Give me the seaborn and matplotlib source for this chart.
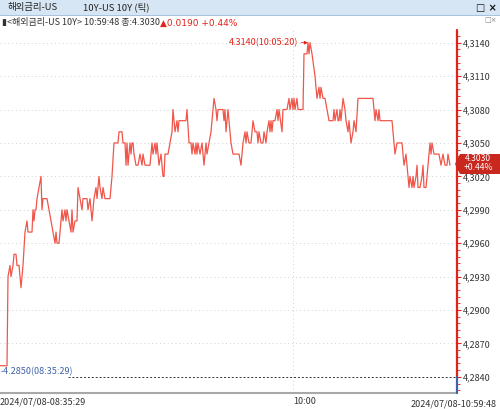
import matplotlib
matplotlib.use('Agg')
import matplotlib.pyplot as plt
import matplotlib.transforms as mtransforms
from matplotlib.patches import Polygon, Rectangle
from matplotlib.ticker import FixedLocator, FuncFormatter, MultipleLocator
import seaborn as sns
import pandas as pd

# tick sequence number and 10Y yield
tick_no = [0, 7, 8, 10, 11, 13, 14, 16, 17, 19, 21, 23, 25, 27, 28, 32, 33, 34, 35, 36,
           37, 41, 42, 43, 47, 49, 51, 53, 55, 56, 57, 59, 62, 63, 65, 66, 67, 69, 71, 72,
           73, 75, 77, 78, 80, 82, 83, 87, 88, 90, 92, 94, 96, 97, 98, 99, 100, 102, 103, 105,
           110, 112, 114, 118, 119, 122, 123, 125, 126, 127, 128, 130, 131, 132, 133, 134, 136, 138, 140, 142,
           143, 145, 150, 152, 153, 155, 156, 157, 158, 159, 161, 163, 164, 165, 168, 170, 172, 173, 174, 175,
           177, 178, 179, 186, 187, 189, 191, 192, 193, 195, 196, 197, 198, 200, 202, 203, 204, 206, 207, 209,
           211, 212, 214, 216, 217, 218, 222, 223, 224, 225, 226, 228, 229, 231, 233, 239, 241, 242, 243, 245,
           246, 247, 249, 251, 252, 253, 255, 257, 258, 259, 261, 263, 264, 266, 267, 269, 270, 271, 272, 273,
           275, 277, 278, 279, 282, 283, 287, 289, 290, 292, 293, 294, 295, 297, 298, 303, 304, 307, 308, 309,
           310, 312, 315, 317, 319, 320, 321, 323, 325, 327, 329, 333, 334, 335, 337, 338, 339, 340, 341, 343,
           345, 346, 348, 349, 351, 353, 354, 356, 358, 373, 375, 376, 378, 379, 380, 392, 394, 395, 397, 402,
           404, 406, 408, 409, 410, 412, 413, 414, 416, 417, 418, 420, 422, 423, 424, 426, 428, 430, 431, 432,
           434, 439, 441, 443, 445, 447, 448, 450]
yield_10y = [4.2850, 4.2850, 4.2930, 4.2940, 4.2930, 4.2940, 4.2950, 4.2950, 4.2940, 4.2940,
             4.2920, 4.2940, 4.2970, 4.2980, 4.2970, 4.2970, 4.2990, 4.2980, 4.2990, 4.2990,
             4.3000, 4.3020, 4.2990, 4.3000, 4.3000, 4.2990, 4.2980, 4.2970, 4.2960, 4.2970,
             4.2960, 4.2960, 4.2990, 4.2980, 4.2990, 4.2980, 4.2990, 4.2980, 4.2970, 4.2990,
             4.2970, 4.2980, 4.2980, 4.3010, 4.3000, 4.2990, 4.3000, 4.3000, 4.2990, 4.3000,
             4.2980, 4.3000, 4.3010, 4.3000, 4.3010, 4.3020, 4.3010, 4.3000, 4.3010, 4.3000,
             4.3000, 4.3020, 4.3050, 4.3050, 4.3060, 4.3060, 4.3050, 4.3050, 4.3030, 4.3050,
             4.3030, 4.3050, 4.3040, 4.3050, 4.3050, 4.3040, 4.3030, 4.3030, 4.3040, 4.3030,
             4.3040, 4.3030, 4.3030, 4.3050, 4.3040, 4.3050, 4.3040, 4.3050, 4.3040, 4.3030,
             4.3040, 4.3020, 4.3020, 4.3040, 4.3040, 4.3050, 4.3060, 4.3080, 4.3070, 4.3060,
             4.3070, 4.3060, 4.3070, 4.3070, 4.3080, 4.3050, 4.3050, 4.3040, 4.3050, 4.3040,
             4.3050, 4.3040, 4.3050, 4.3040, 4.3050, 4.3040, 4.3030, 4.3050, 4.3040, 4.3050,
             4.3060, 4.3070, 4.3090, 4.3080, 4.3070, 4.3080, 4.3080, 4.3080, 4.3070, 4.3080,
             4.3060, 4.3080, 4.3070, 4.3050, 4.3040, 4.3040, 4.3030, 4.3040, 4.3050, 4.3060,
             4.3050, 4.3060, 4.3050, 4.3050, 4.3060, 4.3070, 4.3060, 4.3060, 4.3050, 4.3060,
             4.3050, 4.3050, 4.3060, 4.3050, 4.3060, 4.3070, 4.3060, 4.3070, 4.3060, 4.3070,
             4.3070, 4.3080, 4.3070, 4.3080, 4.3060, 4.3080, 4.3080, 4.3090, 4.3080, 4.3090,
             4.3080, 4.3090, 4.3080, 4.3090, 4.3080, 4.3080, 4.3130, 4.3130, 4.3140, 4.3130,
             4.3140, 4.3130, 4.3110, 4.3090, 4.3100, 4.3090, 4.3100, 4.3090, 4.3090, 4.3080,
             4.3070, 4.3070, 4.3080, 4.3070, 4.3080, 4.3070, 4.3070, 4.3080, 4.3070, 4.3090,
             4.3080, 4.3070, 4.3060, 4.3070, 4.3050, 4.3060, 4.3070, 4.3060, 4.3090, 4.3090,
             4.3070, 4.3080, 4.3070, 4.3080, 4.3070, 4.3070, 4.3050, 4.3040, 4.3050, 4.3050,
             4.3030, 4.3040, 4.3020, 4.3010, 4.3020, 4.3010, 4.3020, 4.3010, 4.3020, 4.3030,
             4.3010, 4.3010, 4.3020, 4.3030, 4.3010, 4.3010, 4.3030, 4.3050, 4.3040, 4.3050,
             4.3040, 4.3040, 4.3030, 4.3040, 4.3030, 4.3030, 4.3040, 4.3030]

y_ticks = [4.2840, 4.2870, 4.2900, 4.2930, 4.2960, 4.2990, 4.3020, 4.3050, 4.3080, 4.3110, 4.3140]
x_tick_pos = [0, 293]
x_tick_labels = ['2024/07/08-08:35:29', '10:00']
end_label = '2024/07/08-10:59:48'
high_label = '4.3140(10:05:20)'
low_label = '-4.2850(08:35:29)'

df = pd.DataFrame({'tick': tick_no, 'yield': yield_10y})

sns.set_style('white')
plt.rcParams['font.family'] = ['Noto Sans CJK KR', 'DejaVu Sans']

RED = '#f0564a'
AXRED = '#e2231a'
BLUE = '#3f62a8'

fig = plt.figure(figsize=(5, 4.09), dpi=100)
ax = fig.add_axes([0, 1 - 393 / 409, 457 / 500, (393 - 30) / 409])

sns.lineplot(data=df, x='tick', y='yield', ax=ax, color=RED, linewidth=0.9)

ax.set_xlim(0, 457)
ax.set_ylim(4.28255, 4.31514)
ax.set_xlabel('')
ax.set_ylabel('')

# grid
for v in y_ticks[1:]:
    ax.axhline(v, color='#cfcfcf', linestyle=(0, (1, 3)), linewidth=0.7, zorder=0)
ax.axvline(x_tick_pos[1], color='#cfcfcf', linestyle=(0, (1, 3)), linewidth=0.7, zorder=0)

# y axis on the right
for s in ['top', 'left', 'right']:
    ax.spines[s].set_visible(False)
ax.spines['bottom'].set_color('#a8a8a8')
ax.spines['bottom'].set_linewidth(1.5)
ax.yaxis.tick_right()
ax.yaxis.set_major_locator(FixedLocator(y_ticks))
ax.yaxis.set_minor_locator(MultipleLocator(0.0006))
ax.yaxis.set_major_formatter(FuncFormatter(lambda v, p: f'{v:.4f}'.replace('.', ',')))
ax.tick_params(axis='y', which='major', length=3, width=0.8, color=AXRED,
               labelcolor='#333333', labelsize=6.5, pad=1)
ax.tick_params(axis='y', which='minor', length=2, width=0.6, color=AXRED)

trans = mtransforms.blended_transform_factory(ax.transAxes, ax.transData)
ax.plot([1, 1], [y_ticks[0], 4.31514], transform=trans, color=AXRED, lw=1.6, clip_on=False, zorder=5)
ax.plot([1, 1], [4.28255, y_ticks[0]], transform=trans, color=BLUE, lw=1.6, clip_on=False, zorder=5)

# x labels
ax.set_xticks(x_tick_pos)
ax.set_xticklabels(x_tick_labels, fontsize=6.5, color='#333333')
for lab in ax.get_xticklabels():
    lab.set_horizontalalignment('left')
ax.tick_params(axis='x', length=0, pad=3)
fig.text(497 / 500, 1 - 404 / 409, end_label, ha='right', va='center', fontsize=6.5, color='#333333')

# high / low annotations
ax.annotate(high_label, xy=(308, 4.3140), xytext=(298, 4.3140), ha='right', va='center',
            fontsize=6.5, color=AXRED,
            arrowprops=dict(arrowstyle='-|>', color=AXRED, lw=0.6, mutation_scale=5,
                            shrinkA=0, shrinkB=0))
ax.text(0.5, y_ticks[0] + 0.0001, low_label, ha='left', va='bottom', fontsize=6.5, color=BLUE)
ax.plot([68, 457], [y_ticks[0], y_ticks[0]], color='#333333', linestyle=(0, (2, 2)), lw=0.7)

# current value tag
W, H = 500, 409
tag = [(455, 164), (460, 154), (500, 154), (500, 174), (460, 174)]
fig.patches.append(Polygon([(x / W, 1 - y / H) for x, y in tag], closed=True,
                           transform=fig.transFigure, facecolor='#c8281e', edgecolor='none', zorder=6))
fig.text(478 / W, 1 - 158.5 / H, '4.3030', ha='center', va='center', fontsize=6.2, color='white', zorder=7)
fig.text(478 / W, 1 - 167.5 / H, '+0.44%', ha='center', va='center', fontsize=6.2, color='white', zorder=7)

# header
fig.patches.append(Rectangle((0, 1 - 15 / H), 1, 15 / H, transform=fig.transFigure,
                             facecolor='#d7e6f4', edgecolor='none', zorder=0))
fig.patches.append(Rectangle((0, 1 - 16 / H), 1, 1 / H, transform=fig.transFigure,
                             facecolor='#a9c3dc', edgecolor='none', zorder=0))
fig.text(8 / W, 1 - 7.5 / H, '해외금리-US', ha='left', va='center', fontsize=6.8, color='#222222')
fig.text(83 / W, 1 - 7.5 / H, '10Y-US 10Y (틱)', ha='left', va='center', fontsize=6.8, color='#222222')
fig.text(497 / W, 1 - 7.5 / H, '□ ×', ha='right', va='center', fontsize=7, color='#111111',
         family=['DejaVu Sans'], weight='bold')
fig.text(2 / W, 1 - 23 / H, '▮<해외금리-US 10Y> 10:59:48 종:4.3030', ha='left', va='center',
         fontsize=6.5, color='#333333')
fig.text(160 / W, 1 - 23 / H, '▲0.0190 +0.44%', ha='left', va='center', fontsize=6.5, color=AXRED,
         family=['DejaVu Sans'])
fig.text(497 / W, 1 - 20 / H, '□×', ha='right', va='center', fontsize=5, color='#888888',
         family=['DejaVu Sans'])

fig.savefig('out.png', dpi=100)
